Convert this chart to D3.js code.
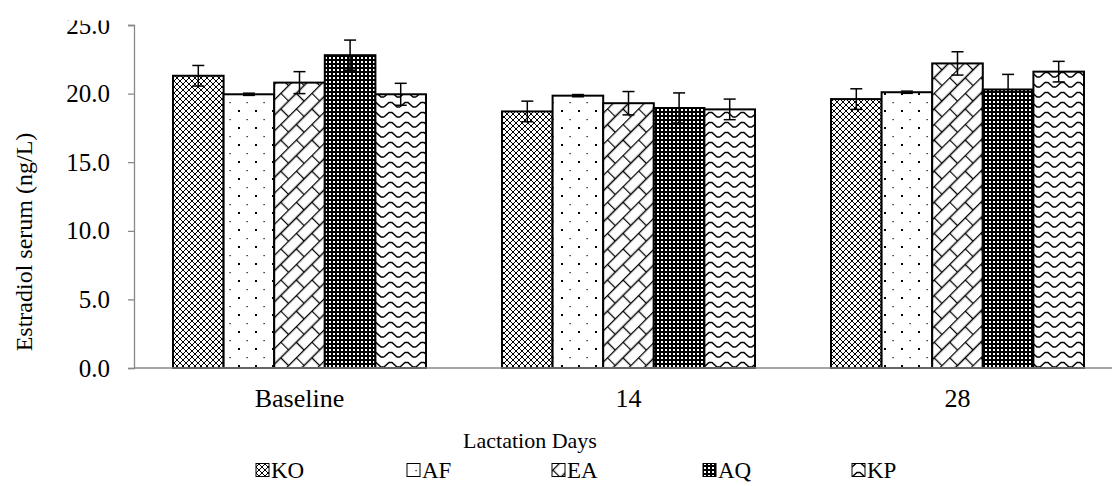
<!DOCTYPE html>
<html lang="en">
<head>
<meta charset="UTF-8">
<title>Estradiol serum</title>
<script src="https://cdn.jsdelivr.net/npm/d3@7"></script>
<style>
    body { margin: 0; background: #fff; }
    text { font-family: "Liberation Serif", "Times New Roman", serif; fill: #000; }
</style>
</head>
<body>
<svg width="1112" height="486"></svg>
<script>
    // values
    const days = ["Baseline", "14", "28"];
    const groups = ["KO", "AF", "EA", "AQ", "KP"];
    const means = {
        KO: [21.3, 18.7, 19.6],
        AF: [19.95, 19.85, 20.1],
        EA: [20.8, 19.3, 22.2],
        AQ: [22.8, 18.95, 20.3],
        KP: [19.95, 18.85, 21.6]
    };
    const errs = {
        KO: [0.75, 0.75, 0.75],
        AF: [0.08, 0.08, 0.08],
        EA: [0.8, 0.85, 0.85],
        AQ: [1.1, 1.1, 1.1],
        KP: [0.8, 0.75, 0.75]
    };
    const yTicks = [0, 5, 10, 15, 20, 25];

    const svg = d3.select("svg");
    const defs = svg.append("defs");

    // fill patterns, one per group
    function pat(id, w, h) {
        return defs.append("pattern").attr("id", id)
            .attr("patternUnits", "userSpaceOnUse")
            .attr("width", w).attr("height", h);
    }
    let p = pat("pKO", 6, 6);
    p.append("rect").attr("width", 6).attr("height", 6).attr("fill", "#fff");
    p.append("path").attr("d", "M0,3L3,0L6,3L3,6Z").attr("fill", "none").attr("stroke", "#000").attr("stroke-width", 1);

    p = pat("pAF", 17, 17);
    p.append("rect").attr("width", 17).attr("height", 17).attr("fill", "#fff");
    p.append("rect").attr("x", 0).attr("y", 8).attr("width", 2).attr("height", 2).attr("fill", "#000");
    p.append("rect").attr("x", 8.5).attr("y", 0).attr("width", 1.2).attr("height", 1.2).attr("fill", "#000");

    p = pat("pEA", 22, 22).attr("patternTransform", "rotate(-45)");
    p.append("rect").attr("width", 22).attr("height", 22).attr("fill", "#fff");
    p.append("path").attr("d", "M0,0.5H22M0,11.5H22M0.5,0V11.5M11.5,11.5V22")
        .attr("stroke", "#000").attr("stroke-width", 1.3).attr("fill", "none");

    p = pat("pAQ", 4, 4);
    p.append("rect").attr("width", 4).attr("height", 4).attr("fill", "#000");
    p.append("rect").attr("x", 1).attr("y", 1).attr("width", 2).attr("height", 2).attr("fill", "#fff");

    p = pat("pKP", 16, 10);
    p.append("rect").attr("width", 16).attr("height", 10).attr("fill", "#fff");
    p.append("path").attr("d", "M0,7L5,2.5L8,2.5L13,7L16,7")
        .attr("stroke", "#000").attr("stroke-width", 1.5).attr("fill", "none");

    const x0 = d3.scaleBand().domain(days).range([135, 1122])
        .paddingInner(0.231).paddingOuter(0.1155);
    const x1 = d3.scaleBand().domain(groups).range([0, x0.bandwidth()]);
    const y = d3.scaleLinear().domain([0, 25]).range([368, 25]);

    // the top tick label is cut off in the original
    const clip = defs.append("clipPath").attr("id", "topcut");
    clip.append("rect").attr("x", -200).attr("y", 20.5).attr("width", 400).attr("height", 470);

    const yAxis = svg.append("g").attr("transform", "translate(134,0)")
        .call(d3.axisLeft(y).tickValues(yTicks).tickFormat(d3.format(".1f")).tickSize(6).tickPadding(18));
    yAxis.select(".domain").attr("stroke", "#888").attr("stroke-width", 1.3);
    yAxis.selectAll(".tick line").attr("stroke", "#888").attr("stroke-width", 1.3);
    yAxis.selectAll(".tick text").attr("font-size", 25).attr("fill", "#000")
        .attr("font-family", "Liberation Serif");
    yAxis.attr("clip-path", "url(#topcut)");

    // bars
    const g = svg.append("g");
    days.forEach((day, i) => {
        groups.forEach(k => {
            const bx = x0(day) + x1(k);
            g.append("rect")
                .attr("x", bx).attr("width", x1.bandwidth())
                .attr("y", y(means[k][i])).attr("height", y(0) - y(means[k][i]))
                .attr("fill", `url(#p${k})`).attr("stroke", "#000").attr("stroke-width", 2);
        });
    });

    // x axis line
    svg.append("line").attr("x1", 134).attr("x2", 1112).attr("y1", y(0)).attr("y2", y(0))
        .attr("stroke", "#888").attr("stroke-width", 1.3);

    // error bars
    days.forEach((day, i) => {
        groups.forEach(k => {
            const cx = x0(day) + x1(k) + x1.bandwidth() / 2;
            const hi = y(means[k][i] + errs[k][i]), lo = y(means[k][i] - errs[k][i]);
            const eb = g.append("g").attr("stroke", "#000").attr("stroke-width", 1.5);
            eb.append("line").attr("x1", cx).attr("x2", cx).attr("y1", hi).attr("y2", lo);
            eb.append("line").attr("x1", cx - 6).attr("x2", cx + 6).attr("y1", hi).attr("y2", hi);
            eb.append("line").attr("x1", cx - 6).attr("x2", cx + 6).attr("y1", lo).attr("y2", lo);
        });
    });

    // category labels
    svg.append("g").selectAll("text").data(days).join("text")
        .attr("x", d => x0(d) + x0.bandwidth() / 2).attr("y", 398)
        .attr("dy", "0.35em").attr("text-anchor", "middle").attr("font-size", 26)
        .text(d => d);

    // axis titles
    svg.append("text").attr("x", 530).attr("y", 440).attr("dy", "0.35em")
        .attr("text-anchor", "middle").attr("font-size", 22).text("Lactation Days");
    svg.append("text").attr("transform", "translate(24,242) rotate(-90)").attr("dy", "0.35em")
        .attr("text-anchor", "middle").attr("font-size", 24).text("Estradiol serum (ng/L)");

    // legend
    const legX = [256, 407, 552, 703, 852];
    const leg = svg.append("g").selectAll("g").data(groups).join("g")
        .attr("transform", (d, i) => `translate(${legX[i]},470)`);
    leg.append("rect").attr("x", 0).attr("y", -6.5).attr("width", 13).attr("height", 13)
        .attr("fill", d => `url(#p${d})`).attr("stroke", "#000").attr("stroke-width", 1);
    leg.append("text").attr("x", 15).attr("dy", "0.35em").attr("font-size", 23).text(d => d);
</script>
</body>
</html>
